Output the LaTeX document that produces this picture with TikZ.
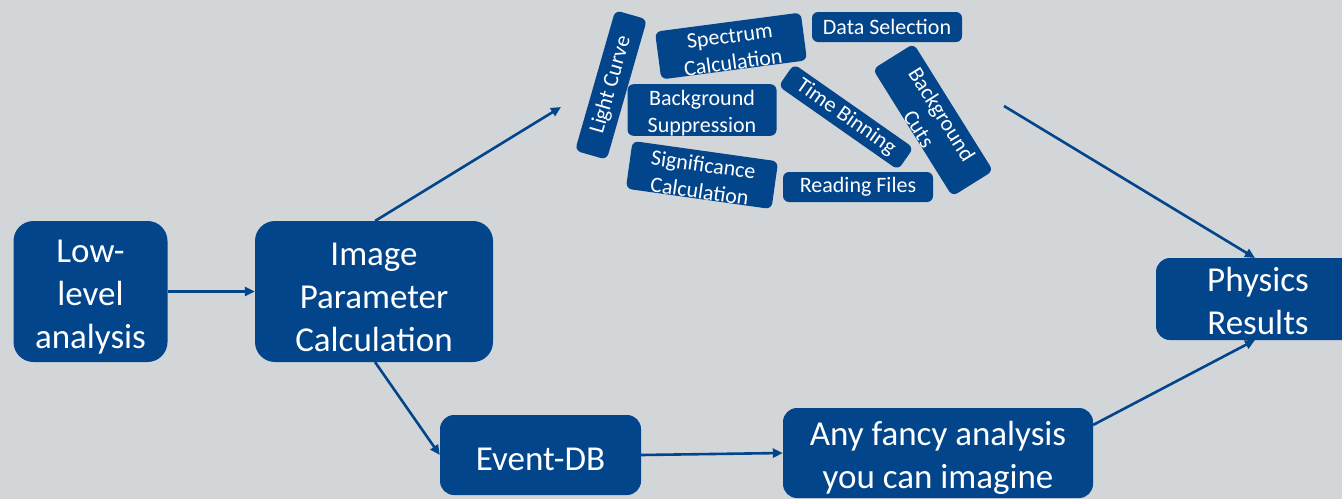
\documentclass[tikz,border=0pt]{standalone}
\usepackage{fontspec}
\setmainfont{Carlito}
\usetikzlibrary{arrows.meta}
\definecolor{boxblue}{HTML}{03458B}
\definecolor{bggray}{HTML}{D3D6D9}
\newcommand{\tpush}[1]{\rule{0pt}{#1}}
\tikzset{
  bigbox/.style={fill=boxblue, text=white, rounded corners=20pt, inner sep=0pt, align=center,
    font=\fontsize{35}{43}\selectfont},
  smallbox/.style={fill=boxblue, text=white, rounded corners=6pt, inner sep=0pt, align=center,
    font=\fontsize{22}{27}\selectfont},
  conn/.style={draw=boxblue, line width=2.6pt, -{Triangle[length=10pt,width=9pt]}},
}
\begin{document}
\begin{tikzpicture}[x=1pt,y=-1pt]
\fill[bggray] (0,0) rectangle (1342,499);
\useasboundingbox (0,0) rectangle (1342,499);

% main boxes
\node[bigbox, minimum width=154pt, minimum height=141pt] (low) at (90.5,291.5) {\tpush{34pt}Low-\\level\\analysis};
\node[bigbox, minimum width=238pt, minimum height=141pt] (img) at (374,291.5) {\tpush{34pt}Image\\Parameter\\Calculation};
\node[bigbox, rounded corners=14pt, minimum width=201pt, minimum height=80pt] (edb) at (540.5,455) {\tpush{31pt}Event-DB};
\node[bigbox, rounded corners=14pt, minimum width=310pt, minimum height=90pt] (fancy) at (938,453) {\tpush{34pt}Any fancy analysis\\you can imagine};
\node[bigbox, rounded corners=14pt, minimum width=204pt, minimum height=82pt] (phys) at (1258,299) {\tpush{29pt}Physics\\Results};

% cluster of tasks
\node[smallbox, rotate=74, minimum width=146pt, minimum height=33pt] (lc) at (611,85) {Light Curve};
\node[smallbox, rotate=7.5, minimum width=147pt, minimum height=47pt] (spec) at (731,46) {\tpush{21pt}Spectrum\\Calculation};
\node[smallbox, minimum width=150pt, minimum height=30pt] (dsel) at (887,27) {Data Selection};
\node[smallbox, minimum width=149pt, minimum height=49pt] (bsup) at (702,110) {\tpush{21pt}Background\\Suppression};
\node[smallbox, rotate=-35, minimum width=146pt, minimum height=27pt] (tbin) at (846,117) {Time Binning};
\node[smallbox, rotate=-58, minimum width=150pt, minimum height=48pt] (bcut) at (933,120) {\tpush{21pt}Background\\Cuts};
\node[smallbox, rotate=-8, minimum width=147pt, minimum height=45pt] (sig) at (702,175) {\tpush{21pt}Significance\\Calculation};
\node[smallbox, minimum width=150pt, minimum height=30pt] (read) at (858,187) {Reading Files};

% connector end points
\coordinate (clin) at (561,107);
\coordinate (clout) at (1004,106);
\coordinate (imgtop) at (375,221);
\coordinate (imgbot) at (375,362);
\coordinate (fancyout) at (1093,425);
\coordinate (physin1) at (1255,258);
\coordinate (physin2) at (1255,340);

% connectors
\draw[conn] (low.east) -- (img.west);
\draw[conn] (imgtop) -- (clin);
\draw[conn] (imgbot) -- (edb.west);
\draw[conn] (edb.east) -- (fancy.west);
\draw[conn] (clout) -- (physin1);
\draw[conn] (fancyout) -- (physin2);
\end{tikzpicture}
\end{document}
